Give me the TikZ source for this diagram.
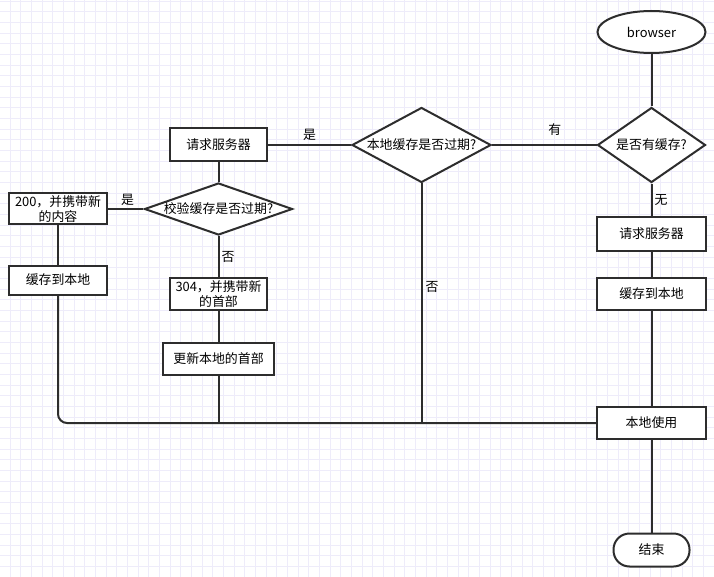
\documentclass[tikz,border=0pt]{standalone}
\usepackage{fontspec}
\setmainfont{Noto Sans CJK SC}
\usetikzlibrary{shapes.geometric}
\definecolor{lncol}{RGB}{45,45,45}
\definecolor{gridcol}{RGB}{238,236,250}
\begin{document}
\begin{tikzpicture}[x=1pt,y=-1pt,
  every node/.style={font=\fontsize{12.9}{15}\selectfont, text=black},
  box/.style={draw=lncol, line width=2pt, fill=white, rectangle, inner sep=0pt, align=center},
  dia/.style={draw=lncol, line width=2pt, fill=white, diamond, inner sep=0pt},
  conn/.style={draw=lncol, line width=2pt},
  lbl/.style={inner sep=1pt}]
\useasboundingbox (0,0) rectangle (714,577);
\fill[white] (0,0) rectangle (714,577);
% grid
\foreach \i in {-1,...,66} {\draw[gridcol, line width=0.9pt] ({10+10.67*\i},0) -- ({10+10.67*\i},577);}
\foreach \j in {-1,...,53} {\draw[gridcol, line width=0.9pt] (0,{11.7+10.67*\j}) -- (714,{11.7+10.67*\j});}

% nodes
\node[draw=lncol, line width=2pt, fill=white, ellipse, inner sep=0pt, minimum width=108, minimum height=42] (br) at (651.5,32) {browser};
\node[dia, minimum width=108, minimum height=75] (d1) at (651.5,145) {\makebox[0pt]{是否有缓存?}};
\node[dia, minimum width=139, minimum height=75] (d2) at (421.5,145) {\makebox[0pt]{本地缓存是否过期?}};
\node[box, minimum width=97, minimum height=33] (req1) at (218.5,145) {请求服务器};
\node[dia, minimum width=148, minimum height=52] (d3) at (218.5,209) {\makebox[0pt]{校验缓存是否过期?}};
\node[box, minimum width=98, minimum height=31] (b200) at (58,209) {200，并携带新\\的内容};
\node[box, minimum width=98, minimum height=29] (c1) at (58,280) {缓存到本地};
\node[box, minimum width=97, minimum height=32] (b304) at (218.5,294) {304，并携带新\\的首部};
\node[box, minimum width=111, minimum height=32] (upd) at (218.5,359) {更新本地的首部};
\node[box, minimum width=109, minimum height=33] (req2) at (651.5,234) {请求服务器};
\node[box, minimum width=109, minimum height=32] (c2) at (651.5,294) {缓存到本地};
\node[box, minimum width=109, minimum height=32] (use) at (651.5,423) {本地使用};
\node[box, rounded corners=16pt, minimum width=76, minimum height=33] (end) at (651.5,550) {结束};

% connectors
\draw[conn] (br) -- (d1);
\draw[conn] (d1) -- node[lbl, above=7pt, pos=0.4] {有} (d2);
\draw[conn] (d2) -- node[lbl, above=2pt, pos=0.5] {是} (req1);
\draw[conn] (req1) -- (d3);
\draw[conn] (d3) -- node[lbl, above=1pt, pos=0.45] {是} (b200);
\draw[conn] (d3) -- node[lbl, right=1pt, pos=0.5] {否} (b304);
\draw[conn] (b304) -- (upd);
\draw[conn] (upd.south) -- (upd.south |- use.west);
\draw[conn] (d2.south) -- node[lbl, right=2pt, pos=0.43] {否} (d2.south |- use.west);
\draw[conn] (b200) -- (c1);
\draw[conn, rounded corners=9pt] (c1.south) |- (use.west);
\draw[conn] (d1) -- node[lbl, right=1pt, pos=0.5] {无} (req2);
\draw[conn] (req2) -- (c2);
\draw[conn] (c2) -- (use);
\draw[conn] (use) -- (end);
\end{tikzpicture}
\end{document}
